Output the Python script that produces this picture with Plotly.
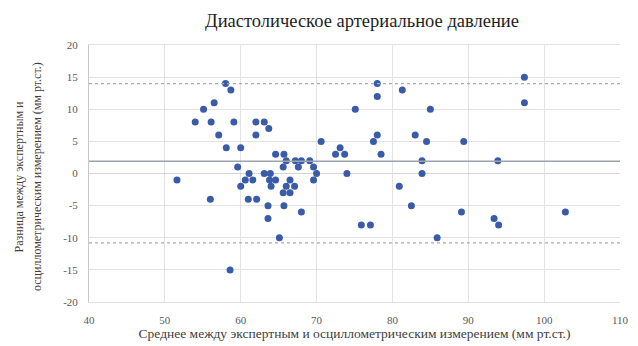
import plotly.graph_objects as go

# Bland–Altman data: mean of the two measurements vs. their difference (mm Hg)
mean_values = [
    51.6, 54.0, 55.1, 56.1, 56.5, 56.0, 57.1, 58.0, 58.1, 58.6,
    58.7, 59.1, 59.6, 60.0, 60.0, 60.6, 61.0, 61.1, 61.6, 62.0,
    62.0, 62.1, 63.1, 63.1, 63.6, 63.6, 63.7, 63.8, 63.9, 64.0,
    64.6, 64.6, 65.1, 65.6, 65.6, 65.7, 65.7, 66.0, 66.0, 66.5,
    66.5, 67.2, 67.1, 67.6, 68.0, 68.0, 69.1, 69.6, 69.6, 70.0,
    70.6, 72.5, 73.1, 73.7, 74.0, 75.1, 75.9, 77.1, 77.5, 78.0,
    78.0, 78.0, 78.5, 80.9, 81.3, 82.5, 83.0, 83.9, 83.9, 84.5,
    85.0, 85.9, 89.1, 89.4, 93.4, 93.9, 94.0, 97.4, 97.4, 102.8,
]
diff_values = [
    -1, 8, 10, 8, 11, -4, 6, 14, 4, -15,
    13, 8, 1, -2, 4, -1, -4, 0, -1, 8,
    6, -4, 0, 8, -5, -7, 7, -1, 0, -2,
    -1, 3, -10, 1, -3, 3, -5, 2, -2, -1,
    -3, 2, -2, 1, 2, -6, 2, 1, -1, 0,
    5, 3, 4, 3, 0, 10, -8, -8, 5, 6,
    12, 14, 3, -2, 13, -5, 6, 2, 0, 5,
    10, -10, -6, 5, -7, 2, -8, 15, 11, -6,
]

bias = 1.9
upper_loa = 14.0
lower_loa = -10.8

x_ticks = [40, 50, 60, 70, 80, 90, 100, 110]
y_ticks = [20, 15, 10, 5, 0, -5, -10, -15, -20]
y_title_lines = ["Разница между экспертным и", "осциллометрическим измерением (мм рт.ст.)"]

serif = "Liberation Serif, Times New Roman, serif"
grid_color = "#e3e3e3"

fig = go.Figure()
fig.add_trace(go.Scatter(
    x=mean_values, y=diff_values, mode="markers",
    marker=dict(size=7, color="#3a5ca8", line=dict(width=0)),
    showlegend=False, hoverinfo="x+y",
))

# mean difference and limits of agreement
fig.add_hline(y=bias, line=dict(color="#9ca3b0", width=1.5))
fig.add_hline(y=upper_loa, line=dict(color="#a8acb4", width=1.2, dash="dot"))
fig.add_hline(y=lower_loa, line=dict(color="#a8acb4", width=1.2, dash="dot"))

# two-line vertical axis title, set as rotated annotations for wider line spacing
for line_text, x_pos in zip(y_title_lines, [-0.131, -0.098]):
    fig.add_annotation(
        text=line_text, textangle=-90, showarrow=False,
        xref="paper", yref="paper", x=x_pos, y=0.49,
        xanchor="center", yanchor="middle",
        font=dict(family=serif, size=12, color="#404040"),
    )

fig.update_layout(
    width=638, height=346,
    margin=dict(l=89, r=9, t=45, b=43),
    paper_bgcolor="white", plot_bgcolor="white",
    title=dict(
        text="Диастолическое артериальное давление",
        x=(89 + 635) / 2 / 638, xanchor="center", y=0.942, yanchor="middle",
        font=dict(family=serif, size=18.5, color="#1f1f1f"),
    ),
    font=dict(family=serif, color="#595959"),
)
fig.update_xaxes(
    range=[40, 110], tickvals=x_ticks, ticktext=[str(v) for v in x_ticks],
    showgrid=True, gridcolor=grid_color, gridwidth=1, zeroline=False,
    showline=True, linecolor=grid_color, mirror=True,
    ticks="", ticklabelstandoff=8,
    tickfont=dict(family=serif, size=11, color="#595959"),
    title=dict(
        text="Среднее между экспертным и осциллометрическим измерением (мм рт.ст.)",
        font=dict(family=serif, size=13.5, color="#404040"), standoff=1,
    ),
)
fig.update_yaxes(
    range=[-20, 20], tickvals=y_ticks, ticktext=[str(v) for v in y_ticks],
    showgrid=True, gridcolor=grid_color, gridwidth=1,
    zeroline=True, zerolinecolor="#d5d5d5", zerolinewidth=1,
    showline=True, linecolor="#c8c8c8", mirror=False,
    ticks="", ticklabelstandoff=8, tickfont=dict(family=serif, size=11, color="#595959"),
)

fig.write_html("out.html")
